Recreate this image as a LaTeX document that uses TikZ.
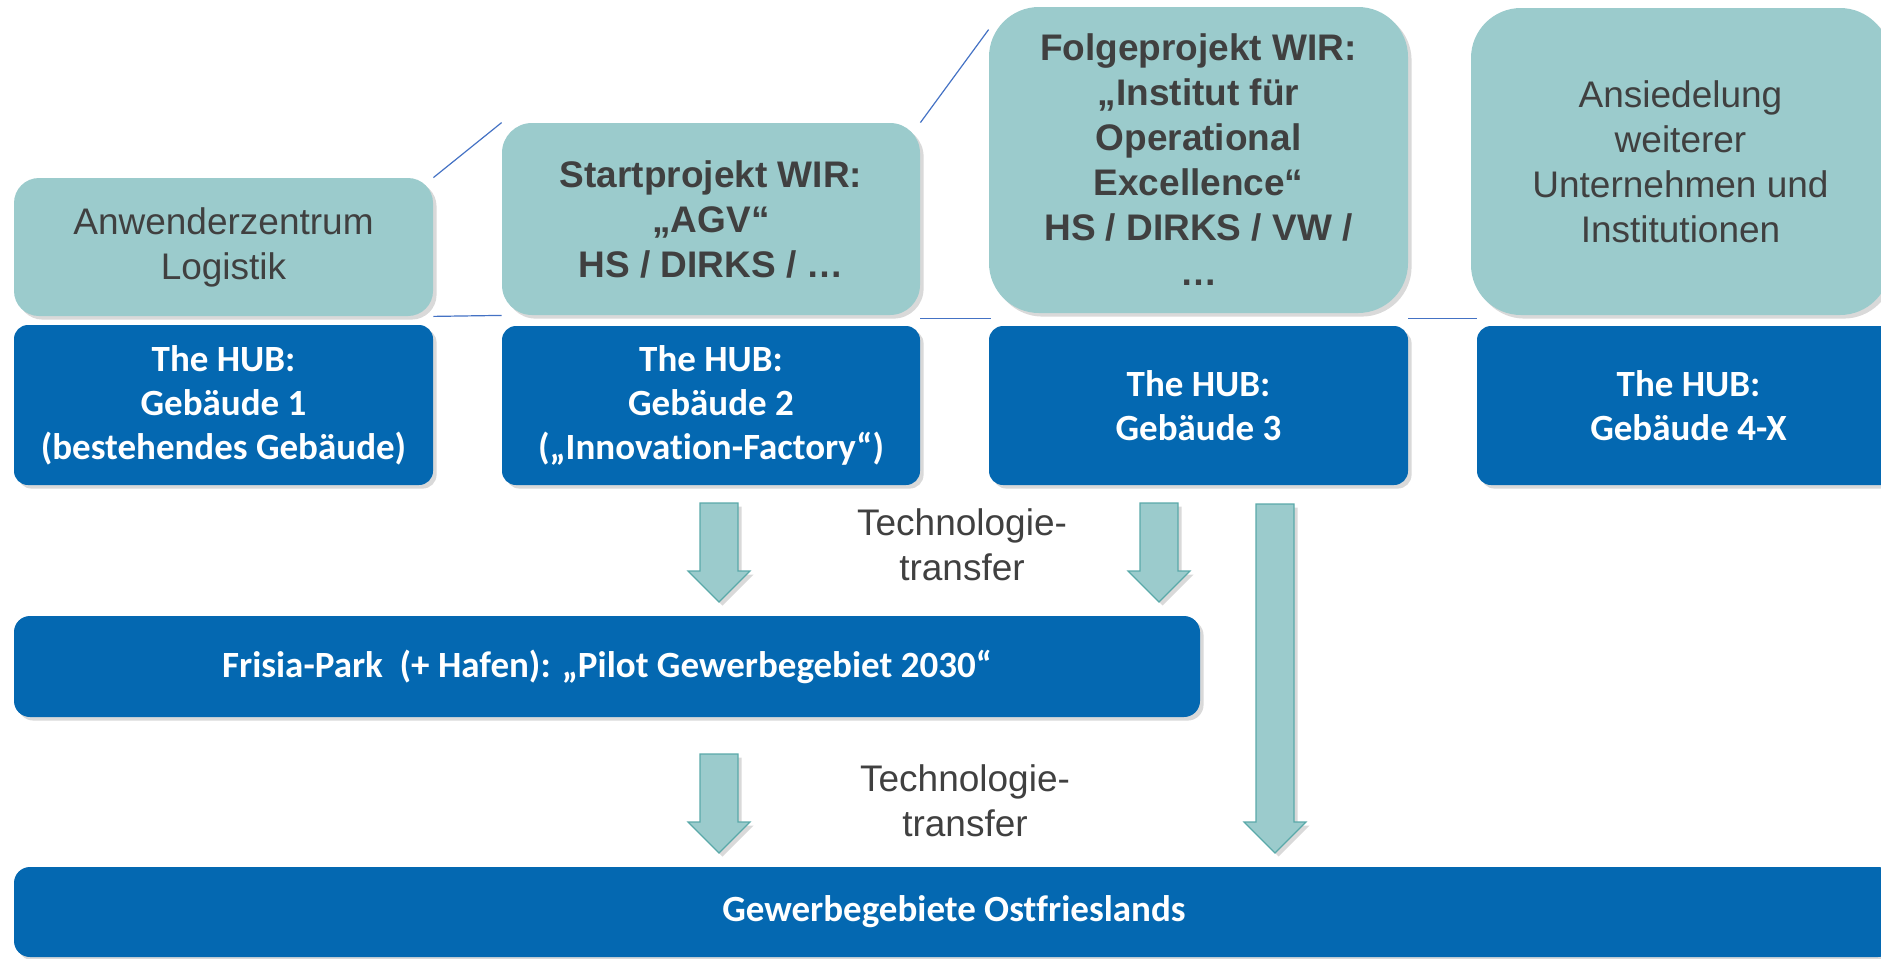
\documentclass[tikz,border=0pt]{standalone}
\usepackage{fontspec}
\setmainfont{Liberation Sans}
\newfontfamily\calib[Ligatures=NoCommon]{Carlito}
\usetikzlibrary{shadows,calc}
\definecolor{tealbox}{HTML}{9BCBCC}
\definecolor{tealedge}{HTML}{5AA9A9}
\definecolor{hubblue}{HTML}{0468B1}
\definecolor{txtgray}{HTML}{404040}
\definecolor{linkblue}{HTML}{4472C4}
\newcommand\blockarrow[2]{%
  \path[blockarr] let \p1=(#1), \p2=(#2) in
    (\x1-9.5pt,\y1) -- (\x1+9.5pt,\y1) -- (\x1+9.5pt,\y2+15.5pt) --
    (\x1+15.5pt,\y2+15.5pt) -- (\x2,\y2) -- (\x1-15.5pt,\y2+15.5pt) --
    (\x1-9.5pt,\y2+15.5pt) -- cycle;}
\begin{document}
\begin{tikzpicture}[x=0.5pt,y=-0.5pt,
  myshadow/.style={drop shadow={shadow xshift=1.8pt,shadow yshift=-1.8pt,opacity=0.3}},
  tealnode/.style={fill=tealbox, draw=none, text=txtgray, align=center, inner sep=0pt,
    font=\fontsize{18.5}{22.5}\selectfont, myshadow},
  tealbold/.style={tealnode, font=\fontsize{18.5}{22.5}\selectfont\bfseries},
  hubnode/.style={fill=hubblue, draw=none, text=white, align=center, inner sep=0pt,
    font=\calib\bfseries\fontsize{18.5}{22}\selectfont, rounded corners=7pt, myshadow},
  linkline/.style={draw=linkblue, line width=0.6pt},
  blockarr/.style={fill=tealbox, draw=tealedge, line width=0.6pt, myshadow},
  techlabel/.style={text=txtgray, align=center, inner sep=0pt, font=\fontsize{18.5}{22.5}\selectfont}
]
\useasboundingbox (0,0) rectangle (1881,959);
\clip (0,0) rectangle (1881,959);

% teal boxes
\node[tealnode, rounded corners=12.5pt, minimum width=209.5pt, minimum height=69pt] (anw) at (223.5,247) {Anwenderzentrum\\Logistik};
\node[tealbold, rounded corners=15pt, minimum width=209pt, minimum height=96pt] (start) at (711,219) {Startprojekt WIR:\\„AGV“\\HS / DIRKS / …};
\node[tealbold, rounded corners=25pt, minimum width=209.5pt, minimum height=153pt] (folge) at (1198.5,160) {Folgeprojekt WIR:\\„Institut für\\Operational\\Excellence“\\HS / DIRKS / VW /\\…};
\node[tealnode, rounded corners=25pt, minimum width=209.5pt, minimum height=153.5pt] (ansied) at (1680.5,161.5) {Ansiedelung\\weiterer\\Unternehmen und\\Institutionen};

% HUB boxes
\node[hubnode, minimum width=209.5pt, minimum height=80pt] (b1) at (223.5,405) {The HUB:\\Gebäude 1\\(bestehendes Gebäude)};
\node[hubnode, minimum width=209pt, minimum height=79.5pt] (b2) at (711,405.5) {The HUB:\\Gebäude 2\\(„Innovation-Factory“)};
\node[hubnode, minimum width=209.5pt, minimum height=79.5pt] (b3) at (1198.5,405.5) {The HUB:\\Gebäude 3};
\node[hubnode, minimum width=211.5pt, minimum height=79.5pt] (b4) at (1688.5,405.5) {The HUB:\\Gebäude 4-X};

\node[hubnode, rounded corners=8pt, minimum width=593pt, minimum height=50.5pt] (frisia) at (607,666.5) {Frisia-Park~ (+ Hafen): „Pilot Gewerbegebiet 2030“};
\node[hubnode, rounded corners=8pt, minimum width=940pt, minimum height=45pt] (gew) at (954,912) {Gewerbegebiete Ostfrieslands};

% link lines
\draw[linkline] (anw.north east) -- (start.north west);
\draw[linkline] (anw.south east) -- (start.south west);
\draw[linkline] (start.north east) -- ($(folge.north west)+(0,23)$);
\draw[linkline] ($(start.south east)+(0,3)$) -- ($(folge.south west)+(2,5)$);
\draw[linkline] ($(folge.south east)+(0,5)$) -- ($(ansied.south west)+(6,3)$);

% block arrows
\coordinate (a1s) at (719,503);  \coordinate (a1e) at (719,602);
\coordinate (a2s) at (1159,503); \coordinate (a2e) at (1159,602);
\coordinate (a3s) at (1275,504); \coordinate (a3e) at (1275,853);
\coordinate (a4s) at (719,754);  \coordinate (a4e) at (719,853);
\blockarrow{a1s}{a1e}
\blockarrow{a2s}{a2e}
\blockarrow{a3s}{a3e}
\blockarrow{a4s}{a4e}

% labels
\node[techlabel] (t1) at (962,545) {Technologie-\\transfer};
\node[techlabel] (t2) at (965,801) {Technologie-\\transfer};
\end{tikzpicture}
\end{document}
